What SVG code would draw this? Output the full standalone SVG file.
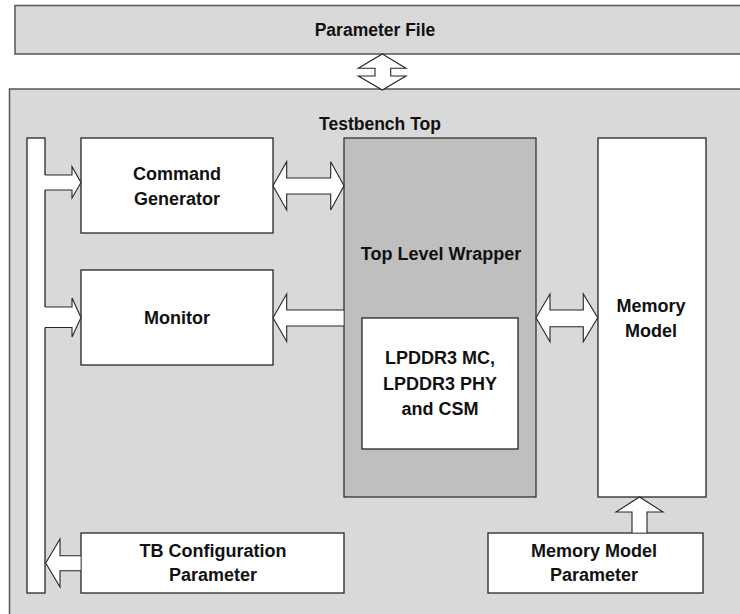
<svg xmlns="http://www.w3.org/2000/svg" width="740" height="614" viewBox="0 0 740 614">
  <style>
    .panel { fill: #d9d9d9; stroke: #555555; stroke-width: 1.5; }
    .wrap { fill: #bfbfbf; stroke: #333333; stroke-width: 1.3; }
    .box { fill: #ffffff; stroke: #262626; stroke-width: 1.3; }
    .afill { fill: #ffffff; stroke: none; }
    .aedge { fill: none; stroke: #262626; stroke-width: 1.1; stroke-linejoin: miter; }
    .lbl { font-family: "Liberation Sans", Arial, sans-serif; font-weight: bold; font-size: 18px; fill: #111111; text-anchor: middle; }
    .ttl { font-family: "Liberation Sans", Arial, sans-serif; font-weight: bold; font-size: 17.5px; fill: #111111; text-anchor: middle; }
  </style>

  <!-- parameter file banner -->
  <g id="parameter-file">
    <rect class="panel" x="15" y="5.5" width="740" height="48.5"/>
    <text class="ttl" x="375" y="36">Parameter File</text>
  </g>

  <!-- testbench top container -->
  <g id="testbench-top">
    <rect class="panel" x="9.5" y="89" width="760" height="560"/>
    <text class="ttl" x="380" y="130">Testbench Top</text>
  </g>

  <!-- parameter distribution bus -->
  <g id="param-bus">
    <rect class="box" x="27" y="138" width="18" height="455"/>
  </g>

  <g id="command-generator">
    <rect class="box" x="81" y="138" width="192" height="95"/>
    <text class="lbl" x="177" y="179.5">Command</text>
    <text class="lbl" x="177" y="205">Generator</text>
  </g>

  <g id="monitor">
    <rect class="box" x="81" y="270" width="192" height="95"/>
    <text class="lbl" x="177" y="323.5">Monitor</text>
  </g>

  <g id="top-level-wrapper">
    <rect class="wrap" x="344" y="138" width="192" height="359"/>
    <text class="lbl" x="441" y="259.5">Top Level Wrapper</text>
  </g>

  <g id="lpddr3-core">
    <rect class="box" x="362" y="318" width="156" height="131"/>
    <text class="lbl" x="440" y="364">LPDDR3 MC,</text>
    <text class="lbl" x="440" y="390">LPDDR3 PHY</text>
    <text class="lbl" x="440" y="414.5">and CSM</text>
  </g>

  <g id="memory-model">
    <rect class="box" x="598" y="138" width="108" height="359"/>
    <text class="lbl" x="651" y="312">Memory</text>
    <text class="lbl" x="651" y="337">Model</text>
  </g>

  <g id="tb-configuration-parameter">
    <rect class="box" x="81" y="533" width="263" height="60"/>
    <text class="lbl" x="213" y="557">TB Configuration</text>
    <text class="lbl" x="213" y="581">Parameter</text>
  </g>

  <g id="memory-model-parameter">
    <rect class="box" x="488" y="533" width="215" height="60"/>
    <text class="lbl" x="594" y="557">Memory Model</text>
    <text class="lbl" x="594" y="581">Parameter</text>
  </g>

  <!-- block arrows -->
  <g id="connectors">
    <!-- parameter file <-> testbench -->
    <path class="afill" d="M382.3,54 L406,68.3 L390.7,68.3 L390.7,76 L406,76 L382.3,90 L358.3,76 L375,76 L375,68.3 L358.3,68.3 Z"/>
    <path class="aedge" d="M382.3,54 L406,68.3 L390.7,68.3 L390.7,76 L406,76 L382.3,90 L358.3,76 L375,76 L375,68.3 L358.3,68.3 Z"/>

    <!-- bus -> command generator -->
    <path class="afill" d="M44,175 L72,175 L72,166.7 L81,182.5 L72,198 L72,190 L44,190 Z"/>
    <path class="aedge" d="M45,175 L72,175 L72,166.7 L81,182.5 L72,198 L72,190 L45,190"/>

    <!-- bus -> monitor -->
    <path class="afill" d="M44,307 L72,307 L72,298 L81,317.5 L72,337 L72,327.5 L44,327.5 Z"/>
    <path class="aedge" d="M45,307 L72,307 L72,298 L81,317.5 L72,337 L72,327.5 L45,327.5"/>

    <!-- tb configuration -> bus -->
    <path class="afill" d="M80.5,555.7 L60,555.7 L60,539 L45.7,563 L60,587 L60,570.7 L80.5,570.7 Z"/>
    <path class="aedge" d="M81,555.7 L60,555.7 L60,539 L45.7,563 L60,587 L60,570.7 L81,570.7"/>

    <!-- command generator <-> top level wrapper -->
    <path class="afill" d="M273,185.8 L286.7,161.7 L286.7,178 L330.7,178 L330.7,161.7 L344,185.8 L330.7,210 L330.7,194 L286.7,194 L286.7,210 Z"/>
    <path class="aedge" d="M273,185.8 L286.7,161.7 L286.7,178 L330.7,178 L330.7,161.7 L344,185.8 L330.7,210 L330.7,194 L286.7,194 L286.7,210 Z"/>

    <!-- top level wrapper -> monitor -->
    <path class="afill" d="M343.5,310 L286.7,310 L286.7,294 L273,317.8 L286.7,341.5 L286.7,326 L343.5,326 Z"/>
    <path class="aedge" d="M344,310 L286.7,310 L286.7,294 L273,317.8 L286.7,341.5 L286.7,326 L344,326"/>

    <!-- top level wrapper <-> memory model -->
    <path class="afill" d="M536,317.8 L550,294 L550,310 L583.3,310 L583.3,294 L597.7,317.8 L583.3,341.7 L583.3,326.7 L550,326.7 L550,341.7 Z"/>
    <path class="aedge" d="M536,317.8 L550,294 L550,310 L583.3,310 L583.3,294 L597.7,317.8 L583.3,341.7 L583.3,326.7 L550,326.7 L550,341.7 Z"/>

    <!-- memory model parameter -> memory model -->
    <path class="afill" d="M632,532.5 L632,512 L616,512 L639.5,497 L663,512 L647,512 L647,532.5 Z"/>
    <path class="aedge" d="M632,533 L632,512 L616,512 L639.5,497 L663,512 L647,512 L647,533"/>
  </g>
</svg>
